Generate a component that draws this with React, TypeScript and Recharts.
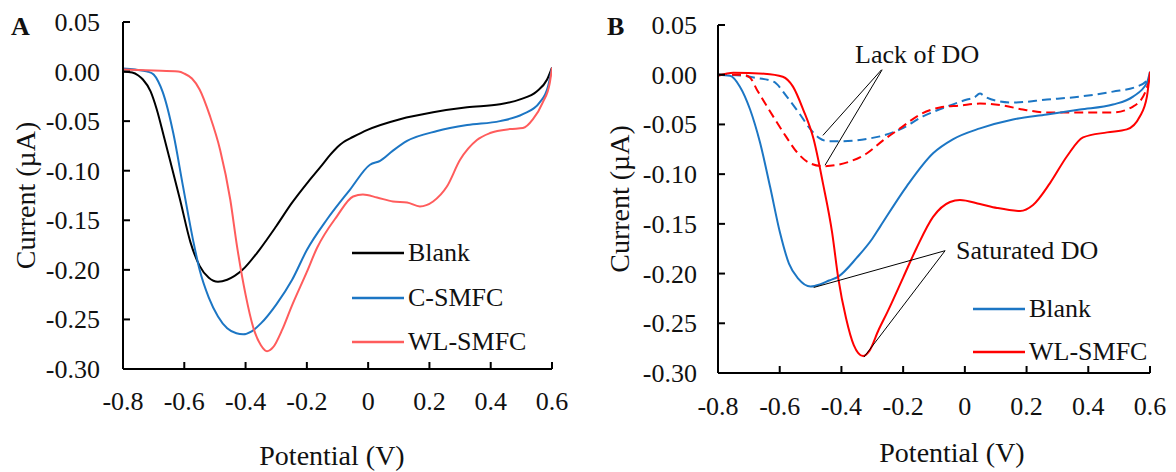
import React from 'react';
import { LineChart, Line, XAxis, YAxis, ReferenceLine, Legend } from 'recharts';

const SERIF = '"Liberation Serif", "Times New Roman", Times, serif';
const INK = '#111';
const BLUE = '#1c76c4';
const RED_A = '#ff5c5c';
const RED_B = '#ff0000';

// Potential axis (V)
const potentialTicks = [-0.8, -0.6, -0.4, -0.2, 0, 0.2, 0.4, 0.6];
const potentialTickLabels = ['-0.8', '-0.6', '-0.4', '-0.2', '0', '0.2', '0.4', '0.6'];
// Current axis (µA)
const currentTicks = [0.05, 0, -0.05, -0.1, -0.15, -0.2, -0.25, -0.3];
const currentTickLabels = ['0.05', '0.00', '-0.05', '-0.10', '-0.15', '-0.20', '-0.25', '-0.30'];

// ---- Panel A ----
const aBlankV = [-0.8, -0.77, -0.75, -0.735, -0.71, -0.69, -0.667, -0.647, -0.614, -0.58, -0.55, -0.52, -0.49, -0.46, -0.41, -0.353, -0.3, -0.25, -0.19, -0.15, -0.124, -0.1, -0.08, -0.05, -0.004, 0.104, 0.212, 0.323, 0.43, 0.496, 0.55, 0.584, 0.6];
const aBlankI = [0.0, -0.001, -0.004, -0.008, -0.02, -0.038, -0.065, -0.089, -0.129, -0.172, -0.196, -0.208, -0.212, -0.21, -0.2, -0.179, -0.156, -0.133, -0.109, -0.094, -0.084, -0.076, -0.071, -0.066, -0.059, -0.048, -0.041, -0.036, -0.033, -0.028, -0.02, -0.008, 0.004];

const aCsmfcV = [-0.8, -0.76, -0.72, -0.7, -0.685, -0.67, -0.636, -0.604, -0.57, -0.55, -0.52, -0.49, -0.46, -0.43, -0.408, -0.38, -0.35, -0.3, -0.248, -0.2, -0.134, -0.059, 0.006, 0.039, 0.08, 0.127, 0.225, 0.323, 0.43, 0.505, 0.56, 0.587, 0.6];
const aCsmfcI = [0.003, 0.002, 0.0, -0.003, -0.01, -0.021, -0.062, -0.116, -0.172, -0.2, -0.228, -0.247, -0.259, -0.264, -0.265, -0.262, -0.254, -0.235, -0.21, -0.18, -0.149, -0.119, -0.094, -0.09, -0.08, -0.07, -0.06, -0.054, -0.05, -0.043, -0.031, -0.015, 0.004];

const aWlsmfcV = [-0.8, -0.7, -0.62, -0.6, -0.575, -0.55, -0.516, -0.483, -0.45, -0.428, -0.4, -0.375, -0.35, -0.33, -0.31, -0.28, -0.25, -0.2, -0.167, -0.102, -0.049, -0.017, 0.029, 0.081, 0.127, 0.169, 0.212, 0.257, 0.3, 0.355, 0.398, 0.463, 0.505, 0.538, 0.57, 0.593, 0.6];
const aWlsmfcI = [0.002, 0.001, 0.0, -0.002, -0.007, -0.018, -0.045, -0.079, -0.129, -0.176, -0.225, -0.258, -0.276, -0.282, -0.278, -0.26, -0.237, -0.202, -0.178, -0.146, -0.126, -0.124, -0.127, -0.131, -0.132, -0.136, -0.131, -0.116, -0.089, -0.069, -0.062, -0.058, -0.057, -0.048, -0.031, -0.011, 0.004];

// ---- Panel B ----
const bBlankV = [-0.8, -0.761, -0.729, -0.696, -0.664, -0.631, -0.599, -0.57, -0.54, -0.5, -0.47, -0.44, -0.41, -0.35, -0.3, -0.275, -0.188, -0.103, -0.039, 0.049, 0.156, 0.266, 0.373, 0.48, 0.545, 0.59, 0.6];
const bBlankI = [0.0, -0.001, -0.012, -0.035, -0.068, -0.113, -0.159, -0.19, -0.205, -0.213, -0.211, -0.207, -0.203, -0.184, -0.165, -0.153, -0.112, -0.079, -0.065, -0.054, -0.045, -0.04, -0.035, -0.03, -0.022, -0.008, 0.003];

const bWlsmfcV = [-0.8, -0.75, -0.65, -0.59, -0.557, -0.524, -0.49, -0.46, -0.43, -0.41, -0.385, -0.36, -0.33, -0.31, -0.28, -0.25, -0.2, -0.156, -0.103, -0.048, -0.016, 0.049, 0.104, 0.179, 0.221, 0.276, 0.331, 0.383, 0.461, 0.525, 0.567, 0.59, 0.6];
const bWlsmfcI = [-0.001, 0.002, 0.001, -0.002, -0.012, -0.035, -0.065, -0.109, -0.159, -0.205, -0.245, -0.272, -0.283, -0.278, -0.257, -0.238, -0.204, -0.174, -0.143, -0.128, -0.126, -0.13, -0.134, -0.137, -0.131, -0.109, -0.082, -0.063, -0.058, -0.055, -0.042, -0.022, 0.003];

const bBlankLowDoV = [-0.8, -0.72, -0.68, -0.62, -0.577, -0.534, -0.5, -0.47, -0.44, -0.4, -0.35, -0.307, -0.275, -0.21, -0.136, -0.058, 0.007, 0.03, 0.049, 0.065, 0.1, 0.156, 0.266, 0.373, 0.48, 0.557, 0.59, 0.6];
const bBlankLowDoI = [0.0, -0.001, -0.003, -0.007, -0.022, -0.04, -0.055, -0.064, -0.067, -0.067, -0.066, -0.064, -0.062, -0.055, -0.042, -0.032, -0.025, -0.023, -0.019, -0.022, -0.026, -0.028, -0.025, -0.022, -0.017, -0.012, -0.006, -0.002];

const bWlsmfcLowDoV = [-0.8, -0.72, -0.696, -0.674, -0.641, -0.609, -0.58, -0.544, -0.502, -0.46, -0.42, -0.37, -0.317, -0.265, -0.21, -0.145, -0.081, -0.016, 0.049, 0.124, 0.188, 0.266, 0.373, 0.48, 0.545, 0.584, 0.6];
const bWlsmfcLowDoI = [0.0, 0.0, -0.003, -0.015, -0.032, -0.048, -0.062, -0.078, -0.089, -0.092, -0.091, -0.087, -0.079, -0.066, -0.054, -0.04, -0.033, -0.031, -0.029, -0.031, -0.035, -0.038, -0.038, -0.038, -0.032, -0.018, -0.002];

// Leader lines of the two callouts (data coordinates)
const lackOfDoLeaders = [
  [{ x: -0.27, y: 0.005 }, { x: -0.46, y: -0.061 }],
  [{ x: -0.268, y: 0.005 }, { x: -0.453, y: -0.091 }],
];
const saturatedDoLeaders = [
  [{ x: -0.064, y: -0.177 }, { x: -0.49, y: -0.214 }],
  [{ x: -0.064, y: -0.177 }, { x: -0.327, y: -0.284 }],
];

const toPoints = (xs: number[], ys: number[]) => xs.map((v, k) => ({ v, i: ys[k] }));

const labelFor = (ticks: number[], labels: string[], value: number) => {
  const k = ticks.findIndex((t) => Math.abs(t - value) < 1e-6);
  return k >= 0 ? labels[k] : String(value);
};

const makeXTick = (labelDy: number) => (props: any) => {
  const { x, y, payload } = props;
  return (
    <g>
      <line x1={x} y1={y} x2={x} y2={y - 7} stroke="#000" strokeWidth={2} />
      <text x={x} y={y + labelDy} textAnchor="middle" fontFamily={SERIF} fontSize={26} fill={INK}>
        {labelFor(potentialTicks, potentialTickLabels, payload.value)}
      </text>
    </g>
  );
};

const makeYTick = (gap: number) => (props: any) => {
  const { x, y, payload } = props;
  return (
    <g>
      <line x1={x} y1={y} x2={x + 7} y2={y} stroke="#000" strokeWidth={2} />
      <text x={x - gap} y={y + 9} textAnchor="end" fontFamily={SERIF} fontSize={26} fill={INK}>
        {labelFor(currentTicks, currentTickLabels, payload.value)}
      </text>
    </g>
  );
};

const xTitle = (cx: number, dy: number) => (props: any) => {
  const vb = props.viewBox || {};
  return (
    <text x={cx} y={(vb.y ?? 0) + dy} textAnchor="middle" fontFamily={SERIF} fontSize={28} fill={INK}>
      Potential (V)
    </text>
  );
};

const yTitle = (cx: number) => (props: any) => {
  const vb = props.viewBox || {};
  const cy = (vb.y ?? 0) + (vb.height ?? 0) / 2;
  return (
    <text
      x={cx}
      y={cy}
      transform={`rotate(-90, ${cx}, ${cy})`}
      textAnchor="middle"
      dominantBaseline="central"
      fontFamily={SERIF}
      fontSize={28}
      fill={INK}
    >
      Current (µA)
    </text>
  );
};

const makeLegend = (rowHeight: number) => (props: any) => {
  const items = (props.payload || []).filter((p: any) => p.type !== 'none');
  return (
    <div style={{ display: 'flex', flexDirection: 'column' }}>
      {items.map((p: any) => (
        <div key={p.value} style={{ height: rowHeight, display: 'flex', alignItems: 'center' }}>
          <svg width={54} height={6} style={{ display: 'block' }}>
            <line x1={0} y1={3} x2={52} y2={3} stroke={p.color} strokeWidth={2.5} />
          </svg>
          <span style={{ fontFamily: SERIF, fontSize: 26, color: INK, lineHeight: 1, marginLeft: 2, whiteSpace: 'nowrap' }}>
            {p.value}
          </span>
        </div>
      ))}
    </div>
  );
};

const axisStroke = { stroke: '#000', strokeWidth: 2 };

export default function App() {
  return (
    <div style={{ position: 'absolute', left: 0, top: 0, width: 1176, height: 472, background: '#fff' }}>
      {/* Panel A */}
      <div style={{ position: 'absolute', left: 0, top: 0 }}>
        <LineChart width={590} height={472} margin={{ top: 22, right: 38, bottom: 43, left: 23 }}>
          <XAxis
            type="number"
            dataKey="v"
            domain={[-0.8, 0.6]}
            ticks={potentialTicks}
            interval={0}
            tickSize={0}
            tickMargin={0}
            tickLine={false}
            tick={makeXTick(41)}
            axisLine={axisStroke}
            height={60}
            allowDataOverflow
            label={{ content: xTitle(332, 96) }}
          />
          <YAxis
            type="number"
            domain={[-0.3, 0.05]}
            ticks={currentTicks}
            interval={0}
            tickSize={0}
            tickMargin={0}
            tickLine={false}
            tick={makeYTick(23)}
            axisLine={axisStroke}
            width={100}
            allowDataOverflow
            label={{ content: yTitle(25) }}
          />
          <Line data={toPoints(aBlankV, aBlankI)} dataKey="i" name="Blank" type="monotone" stroke="#000" strokeWidth={2} dot={false} isAnimationActive={false} />
          <Line data={toPoints(aCsmfcV, aCsmfcI)} dataKey="i" name="C-SMFC" type="monotone" stroke={BLUE} strokeWidth={2} dot={false} isAnimationActive={false} />
          <Line data={toPoints(aWlsmfcV, aWlsmfcI)} dataKey="i" name="WL-SMFC" type="monotone" stroke={RED_A} strokeWidth={2} dot={false} isAnimationActive={false} />
          <Legend
            layout="vertical"
            align="center"
            verticalAlign="middle"
            content={makeLegend(44.5)}
            wrapperStyle={{ left: 352, top: 231, width: 'auto' }}
          />
        </LineChart>
      </div>

      {/* Panel B */}
      <div style={{ position: 'absolute', left: 590, top: 0 }}>
        <LineChart width={586} height={472} margin={{ top: 25, right: 26, bottom: 39, left: 28 }}>
          <XAxis
            type="number"
            dataKey="v"
            domain={[-0.8, 0.6]}
            ticks={potentialTicks}
            interval={0}
            tickSize={0}
            tickMargin={0}
            tickLine={false}
            tick={makeXTick(42)}
            axisLine={axisStroke}
            height={60}
            allowDataOverflow
            label={{ content: xTitle(362, 89) }}
          />
          <YAxis
            type="number"
            domain={[-0.3, 0.05]}
            ticks={currentTicks}
            interval={0}
            tickSize={0}
            tickMargin={0}
            tickLine={false}
            tick={makeYTick(21)}
            axisLine={axisStroke}
            width={100}
            allowDataOverflow
            label={{ content: yTitle(29) }}
          />
          <Line data={toPoints(bBlankLowDoV, bBlankLowDoI)} dataKey="i" name="Blank (lack of DO)" legendType="none" type="monotone" stroke={BLUE} strokeWidth={2} strokeDasharray="9 5" dot={false} isAnimationActive={false} />
          <Line data={toPoints(bWlsmfcLowDoV, bWlsmfcLowDoI)} dataKey="i" name="WL-SMFC (lack of DO)" legendType="none" type="monotone" stroke={RED_B} strokeWidth={2} strokeDasharray="9 5" dot={false} isAnimationActive={false} />
          <Line data={toPoints(bBlankV, bBlankI)} dataKey="i" name="Blank" type="monotone" stroke={BLUE} strokeWidth={2} dot={false} isAnimationActive={false} />
          <Line data={toPoints(bWlsmfcV, bWlsmfcI)} dataKey="i" name="WL-SMFC" type="monotone" stroke={RED_B} strokeWidth={2} dot={false} isAnimationActive={false} />
          {lackOfDoLeaders.map((seg, k) => (
            <ReferenceLine key={`l${k}`} segment={seg} stroke="#000" strokeWidth={1} ifOverflow="visible" />
          ))}
          {saturatedDoLeaders.map((seg, k) => (
            <ReferenceLine key={`s${k}`} segment={seg} stroke="#000" strokeWidth={1} ifOverflow="visible" />
          ))}
          <Legend
            layout="vertical"
            align="center"
            verticalAlign="middle"
            content={makeLegend(43)}
            wrapperStyle={{ left: 383, top: 287.5, width: 'auto' }}
          />
        </LineChart>
      </div>

      {/* Panel letters and callout text */}
      <svg width={1176} height={472} style={{ position: 'absolute', left: 0, top: 0, pointerEvents: 'none' }}>
        <text x={11} y={35} fontFamily={SERIF} fontSize={26} fontWeight="bold" fill={INK}>A</text>
        <text x={607} y={35} fontFamily={SERIF} fontSize={26} fontWeight="bold" fill={INK}>B</text>
        <text x={855} y={63} fontFamily={SERIF} fontSize={26} fill={INK}>Lack of DO</text>
        <text x={956} y={259} fontFamily={SERIF} fontSize={26} fill={INK}>Saturated DO</text>
      </svg>
    </div>
  );
}
